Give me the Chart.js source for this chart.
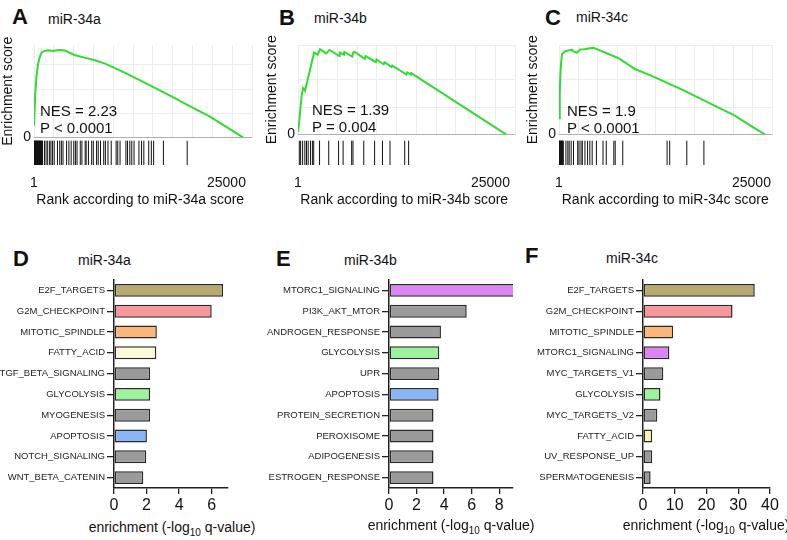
<!DOCTYPE html>
<html>
<head>
<meta charset="utf-8">
<script src="https://cdn.jsdelivr.net/npm/chart.js@4.4.1/dist/chart.umd.min.js"></script>
<style>
  body { margin: 0; background: #fff; }
  #fig { position: relative; width: 787px; height: 540px; overflow: hidden; font-family: 'Liberation Sans', Arial, sans-serif; color: #111; }
  #fig canvas { position: absolute; }
  .letter { position: absolute; font-weight: bold; font-size: 22px; line-height: 22px; }
  .ttl { position: absolute; font-size: 14px; line-height: 14px; }
  .stat { position: absolute; font-size: 15px; line-height: 17px; }
  .xt { position: absolute; width: 200px; text-align: center; font-size: 14px; line-height: 16px; white-space: nowrap; }
  .xt sub { font-size: 10px; }
</style>
</head>
<body>
<div id="fig">
  <div class="letter" style="left:12px;top:6px">A</div>
  <div class="ttl" style="left:48px;top:12px">miR-34a</div>
  <div class="letter" style="left:279px;top:7px">B</div>
  <div class="ttl" style="left:314px;top:11px">miR-34b</div>
  <div class="letter" style="left:545px;top:7px">C</div>
  <div class="ttl" style="left:576px;top:10px">miR-34c</div>

  <canvas id="curveA" width="262" height="119" style="left:0;top:30px"></canvas>
  <canvas id="curveB" width="262" height="116" style="left:264px;top:30px"></canvas>
  <canvas id="curveC" width="262" height="116" style="left:525px;top:30px"></canvas>
  <canvas id="codeA" width="262" height="107" style="left:0;top:100px"></canvas>
  <canvas id="codeB" width="262" height="107" style="left:264px;top:100px"></canvas>
  <canvas id="codeC" width="262" height="107" style="left:525px;top:100px"></canvas>

  <div class="stat" style="left:40px;top:102px">NES = 2.23<br>P &lt; 0.0001</div>
  <div class="stat" style="left:312px;top:101px">NES = 1.39<br>P = 0.004</div>
  <div class="stat" style="left:567px;top:102px">NES = 1.9<br>P &lt; 0.0001</div>

  <div class="letter" style="left:13px;top:248px">D</div>
  <div class="ttl" style="left:78px;top:253px">miR-34a</div>
  <div class="letter" style="left:276px;top:248px">E</div>
  <div class="ttl" style="left:344px;top:253px">miR-34b</div>
  <div class="letter" style="left:525px;top:245px">F</div>
  <div class="ttl" style="left:606px;top:251px">miR-34c</div>

  <canvas id="barD" width="262" height="250" style="left:0;top:268px"></canvas>
  <canvas id="barE" width="262" height="250" style="left:262px;top:268px"></canvas>
  <canvas id="barF" width="263" height="250" style="left:524px;top:268px"></canvas>

  <div class="xt" style="left:72px;top:519px">enrichment (-log<sub>10</sub> q-value)</div>
  <div class="xt" style="left:351px;top:517px">enrichment (-log<sub>10</sub> q-value)</div>
  <div class="xt" style="left:606px;top:517px">enrichment (-log<sub>10</sub> q-value)</div>
</div>
<script>
Chart.defaults.font.family = "'Liberation Sans', Arial, sans-serif";
Chart.defaults.color = '#111';

// GSEA running enrichment score
const rankTicks = [1, 25000];
const rankMax = 27600;

const esRankA = [0, 150, 300, 500, 700, 950, 1300, 1800, 2400, 2900, 3400, 3900, 4500, 5200, 6400, 7600, 9000, 11000, 13200, 15300, 17400, 19700, 22100, 24300, 26500];
const esA = [0.10, 0.35, 0.50, 0.60, 0.66, 0.70, 0.715, 0.72, 0.715, 0.72, 0.722, 0.718, 0.70, 0.68, 0.66, 0.64, 0.61, 0.55, 0.48, 0.41, 0.34, 0.26, 0.18, 0.09, 0.0];
const esTicksA = [0, 0.7];

const esRankB = [0, 170, 350, 500, 650, 900, 1050, 1300, 1550, 1800, 2050, 2500, 2800, 3600, 4000, 5250, 5300, 5850, 5900, 6900, 7000, 7200, 8500, 8600, 9900, 10000, 10900, 11000, 11900, 12000, 13800, 13900, 14350, 14400, 26500];
const esB = [0.02, 0.10, 0.22, 0.30, 0.34, 0.32, 0.36, 0.42, 0.48, 0.54, 0.60, 0.585, 0.625, 0.595, 0.62, 0.575, 0.60, 0.585, 0.605, 0.57, 0.60, 0.605, 0.555, 0.575, 0.53, 0.55, 0.515, 0.53, 0.495, 0.505, 0.44, 0.455, 0.44, 0.45, 0.0];
const esTicksB = [0, 0.6];

const esRankC = [0, 100, 170, 280, 390, 600, 810, 1200, 1680, 2000, 2320, 2600, 2750, 3300, 3830, 4480, 5120, 6410, 7700, 9840, 12000, 14150, 16300, 18450, 20600, 22740, 24700, 26700];
const esC = [0.12, 0.30, 0.43, 0.53, 0.59, 0.60, 0.61, 0.615, 0.62, 0.605, 0.60, 0.615, 0.624, 0.625, 0.63, 0.635, 0.62, 0.59, 0.56, 0.48, 0.43, 0.375, 0.32, 0.26, 0.20, 0.14, 0.07, 0.0];
const esTicksC = [0, 0.6];

// ranks of the target genes (barcode)
const hitsA = [10, 60, 110, 160, 210, 270, 320, 380, 430, 490, 540, 600, 660, 720, 780, 840, 900, 960, 1030, 1100,
  1355, 1566, 1778, 2032, 2201, 2413, 2625, 3048, 3344, 3556, 3768, 4233, 4530, 4826, 5165, 5376, 5588, 6011, 6223,
  6646, 6773, 7069, 7493, 7704, 8128, 8339, 8636, 9059, 9271, 9609, 10033, 10668, 10879, 11176, 11938, 12150, 12446,
  12700, 12996, 13631, 13970, 14266, 14901, 15240, 15536, 16806, 19900];
const hitsB = [170, 340, 600, 890, 1100, 1320, 1620, 1870, 2040, 2800, 3990, 5270, 5860, 6970, 7140, 8540, 9950, 10970, 11950, 13860, 14370];
const hitsC = [10, 60, 120, 180, 240, 300, 360, 420, 480, 560, 900, 1150, 1320, 1580, 1880, 2430, 2600, 2860, 3030, 3370,
  3710, 4010, 4310, 4860, 5720, 6140, 7120, 7300, 8280, 14040, 14380, 16600, 18820];

// hallmark enrichment bars
const setsD = ['E2F_TARGETS', 'G2M_CHECKPOINT', 'MITOTIC_SPINDLE', 'FATTY_ACID', 'TGF_BETA_SIGNALING', 'GLYCOLYSIS', 'MYOGENESIS', 'APOPTOSIS', 'NOTCH_SIGNALING', 'WNT_BETA_CATENIN'];
const valsD = [6.7, 6.0, 2.63, 2.6, 2.22, 2.22, 2.22, 2.02, 1.98, 1.8];
const ticksD = [0, 2, 4, 6];

const setsE = ['MTORC1_SIGNALING', 'PI3K_AKT_MTOR', 'ANDROGEN_RESPONSE', 'GLYCOLYSIS', 'UPR', 'APOPTOSIS', 'PROTEIN_SECRETION', 'PEROXISOME', 'ADIPOGENESIS', 'ESTROGEN_RESPONSE'];
const valsE = [9.4, 5.64, 3.77, 3.65, 3.65, 3.6, 3.23, 3.23, 3.23, 3.23];
const ticksE = [0, 2, 4, 6, 8];

const setsF = ['E2F_TARGETS', 'G2M_CHECKPOINT', 'MITOTIC_SPINDLE', 'MTORC1_SIGNALING', 'MYC_TARGETS_V1', 'GLYCOLYSIS', 'MYC_TARGETS_V2', 'FATTY_ACID', 'UV_RESPONSE_UP', 'SPERMATOGENESIS'];
const valsF = [35.2, 28.2, 9.5, 8.3, 6.4, 5.5, 4.5, 2.9, 2.9, 2.4];
const ticksF = [0, 10, 20, 30, 40];

const setColors = {
  E2F_TARGETS: '#b8a96f',
  G2M_CHECKPOINT: '#f8979b',
  MITOTIC_SPINDLE: '#fbb67b',
  FATTY_ACID: '#fdfadb',
  GLYCOLYSIS: '#9bf49c',
  APOPTOSIS: '#89b6f6',
  MTORC1_SIGNALING: '#dc84f1'
};

const noHover = { responsive: false, animation: false, events: [],
  plugins: { legend: { display: false }, tooltip: { enabled: false } } };

function curveChart(id, ranks, es, yMax, yLabels, padRight) {
  new Chart(document.getElementById(id), {
    type: 'scatter',
    data: { datasets: [{
      data: ranks.map((r, i) => ({ x: r, y: es[i] })),
      showLine: true, borderColor: '#2fdc2f', borderWidth: 2, pointRadius: 0
    }] },
    options: {
      ...noHover,
      layout: { padding: { top: 15, right: padRight, bottom: 0, left: 0 } },
      scales: {
        x: {
          type: 'linear', min: 0, max: rankMax,
          ticks: { display: false, stepSize: 2500 },
          grid: { color: '#ececec', drawTicks: false },
          border: { display: false }
        },
        y: {
          min: 0, max: yMax,
          ticks: {
            stepSize: 0.1, padding: 3, font: { size: 14 },
            callback: v => {
              const t = yLabels.find(t => Math.abs(t - v) < 1e-6);
              return t === undefined ? '' : String(t);
            }
          },
          grid: { color: c => (c.tick && c.tick.value === 0 ? '#b0b0b0' : '#ececec'), drawTicks: false },
          border: { display: false },
          title: { display: true, text: 'Enrichment score', padding: 0, font: { size: 14 } },
          afterFit: s => { s.width = 34; }
        }
      }
    }
  });
}

// the hit lines sit in the bottom 29px of a taller plot area
function barcodeChart(id, hits, title, padRight) {
  new Chart(document.getElementById(id), {
    type: 'scatter',
    data: { datasets: [{
      data: hits.map(r => ({ x: r, y: 0.5 })),
      pointStyle: 'line', pointRotation: 90, pointRadius: 14.5,
      pointBorderColor: '#111', pointBorderWidth: 1
    }] },
    options: {
      ...noHover,
      layout: { padding: { top: 0, right: padRight, bottom: 0, left: 34 } },
      scales: {
        x: {
          type: 'linear', min: 0, max: rankMax,
          afterBuildTicks: s => { s.ticks = rankTicks.map(v => ({ value: v })); },
          ticks: { padding: 3, font: { size: 14, lineHeight: 1 }, maxRotation: 0, autoSkip: false, callback: v => String(v) },
          grid: { display: false },
          border: { display: false },
          title: { display: true, text: title, padding: 0, font: { size: 14, lineHeight: 1 } }
        },
        y: { display: false, min: 0, max: 2.52 }
      }
    }
  });
}

function barChart(id, sets, vals, ticks, xMax, yWidth, padRight, colors) {
  new Chart(document.getElementById(id), {
    type: 'bar',
    data: {
      labels: sets,
      datasets: [{
        data: vals,
        backgroundColor: sets.map(s => colors[s] || '#9a9a9a'),
        borderColor: '#2a2a2a', borderWidth: 1.5, borderSkipped: false,
        barPercentage: 0.62, categoryPercentage: 1, clip: 0
      }]
    },
    options: {
      ...noHover,
      indexAxis: 'y',
      layout: { padding: { top: 12, right: padRight, bottom: 0, left: 0 } },
      scales: {
        x: {
          min: 0, max: xMax,
          afterBuildTicks: s => { s.ticks = ticks.map(v => ({ value: v })); },
          ticks: { font: { size: 16 }, padding: 2 },
          grid: { drawOnChartArea: false, color: '#222', tickLength: 6, lineWidth: 1.3 },
          border: { color: '#222', width: 1.5 },
          afterFit: s => { s.height = 30; }
        },
        y: {
          ticks: { font: { size: 9.5 }, color: '#222', padding: 2, autoSkip: false },
          grid: { drawOnChartArea: false, offset: false, color: '#222', tickLength: 7, lineWidth: 1.3 },
          border: { color: '#222', width: 1.5 },
          afterFit: s => { s.width = yWidth; }
        }
      }
    }
  });
}

curveChart('curveA', esRankA, esA, 0.764, esTicksA, 10);
curveChart('curveB', esRankB, esB, 0.656, esTicksB, 11);
curveChart('curveC', esRankC, esC, 0.656, esTicksC, 15);
barcodeChart('codeA', hitsA, 'Rank according to miR-34a score', 10);
barcodeChart('codeB', hitsB, 'Rank according to miR-34b score', 11);
barcodeChart('codeC', hitsC, 'Rank according to miR-34c score', 15);

barChart('barD', setsD, valsD, ticksD, 7, 114, 34, setColors);
barChart('barE', setsE, valsE, ticksE, 9, 127, 11, setColors);
barChart('barF', setsF, valsF, ticksF, 40, 119, 17, { ...setColors, FATTY_ACID: '#f6f5b2' });
</script>
</body>
</html>
